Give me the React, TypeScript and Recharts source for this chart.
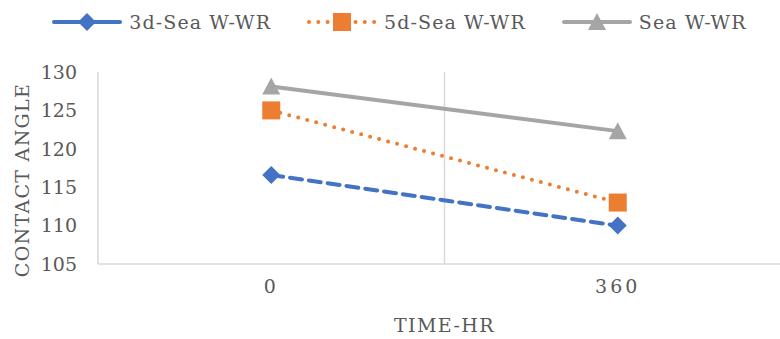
// App.tsx
// Contact angle vs time line chart (Recharts), Excel-like styling

import { LineChart, Line, XAxis, YAxis, ReferenceLine, Legend } from 'recharts'

const times = [0, 360]
const sea3d = [116.6, 110]
const sea5d = [125, 113]
const seaWR = [128.1, 122.3]
const yTicks = [105, 110, 115, 120, 125, 130]
const gridTimes = [180, 540]

const data = times.map((t, i) => ({
  time: t,
  sea3d: sea3d[i],
  sea5d: sea5d[i],
  seaWR: seaWR[i],
}))

const FONT = '"DejaVu Serif", serif'
const TEXT = '#595959'

const series = [
  { key: 'sea3d', name: '3d-Sea W-WR', color: '#4472C4', dash: '12 7', width: 4, marker: 'diamond' },
  { key: 'sea5d', name: '5d-Sea W-WR', color: '#ED7D31', dash: '0 9.3', width: 4, marker: 'square' },
  { key: 'seaWR', name: 'Sea W-WR', color: '#A5A5A5', dash: undefined, width: 4, marker: 'triangle' },
]

function Marker({ cx, cy, type, color }: { cx: number; cy: number; type: string; color: string }) {
  if (type === 'diamond') {
    return <polygon points={`${cx},${cy - 9} ${cx + 9},${cy} ${cx},${cy + 9} ${cx - 9},${cy}`} fill={color} />
  }
  if (type === 'square') {
    return <rect x={cx - 9} y={cy - 9} width={18} height={18} fill={color} />
  }
  return <polygon points={`${cx},${cy - 9} ${cx + 9},${cy + 8} ${cx - 9},${cy + 8}`} fill={color} />
}

function LegendContent() {
  return (
    <div style={{ display: 'flex', justifyContent: 'center', gap: 36, paddingLeft: 8, height: 24, alignItems: 'center' }}>
      {series.map(s => (
        <div key={s.key} style={{ display: 'flex', alignItems: 'center' }}>
          <svg width={70} height={22} style={{ marginRight: 7 }}>
            <line
              x1={2}
              y1={11}
              x2={68}
              y2={11}
              stroke={s.color}
              strokeWidth={s.width}
              strokeDasharray={s.dash === '12 7' ? undefined : s.dash}
              strokeLinecap="round"
            />
            <Marker cx={35} cy={11} type={s.marker} color={s.color} />
          </svg>
          <span style={{ fontFamily: FONT, fontSize: 19, color: TEXT, letterSpacing: 1.1, whiteSpace: 'nowrap' }}>
            {s.name}
          </span>
        </div>
      ))}
    </div>
  )
}

export default function App() {
  return (
    <div style={{ position: 'absolute', left: 0, top: 0, width: 780, height: 339, overflow: 'hidden', background: '#fff', fontFamily: FONT }}>
      <LineChart width={794} height={339} data={data} margin={{ top: 10, right: 3, bottom: 0, left: 0 }} style={{ fontFamily: FONT }}>
        <Legend verticalAlign="top" height={62} content={<LegendContent />} />
        {gridTimes.map(g => (
          <ReferenceLine key={g} x={g} stroke="#D9D9D9" strokeWidth={1.5} />
        ))}
        <XAxis
          dataKey="time"
          type="number"
          domain={[-180, 540]}
          ticks={times}
          allowDataOverflow
          height={75}
          axisLine={{ stroke: '#D9D9D9', strokeWidth: 1.5 }}
          tickLine={false}
          tickMargin={10}
          tick={{ fontFamily: FONT, fontSize: 19, fill: TEXT, letterSpacing: 3 }}
          label={({ viewBox }: any) => (
            <text
              x={viewBox.x + viewBox.width / 2}
              y={viewBox.y + 68}
              textAnchor="middle"
              style={{ fontFamily: FONT }}
              fontSize={19}
              fill={TEXT}
              letterSpacing={1.4}
            >
              TIME-HR
            </text>
          )}
        />
        <YAxis
          type="number"
          domain={[105, 130]}
          ticks={yTicks}
          width={98}
          axisLine={{ stroke: '#D9D9D9', strokeWidth: 1.5 }}
          tickLine={false}
          tickMargin={15}
          tick={{ fontFamily: FONT, fontSize: 19, fill: TEXT }}
          label={({ viewBox }: any) => {
            const x = viewBox.x + 29
            const y = viewBox.y + viewBox.height / 2 + 12
            return (
              <text
                x={x}
                y={y}
                transform={`rotate(-90 ${x} ${y})`}
                textAnchor="middle"
                style={{ fontFamily: FONT }}
                fontSize={19}
                fill={TEXT}
                letterSpacing={1.3}
              >
                CONTACT ANGLE
              </text>
            )
          }}
        />
        {series.map(s => (
          <Line
            key={s.key}
            dataKey={s.key}
            name={s.name}
            stroke={s.color}
            strokeWidth={s.width}
            strokeDasharray={s.dash}
            strokeLinecap="round"
            isAnimationActive={false}
            dot={(p: any) => <Marker key={`${s.key}-${p.index}`} cx={p.cx} cy={p.cy} type={s.marker} color={s.color} />}
            activeDot={false}
          />
        ))}
      </LineChart>
    </div>
  )
}
